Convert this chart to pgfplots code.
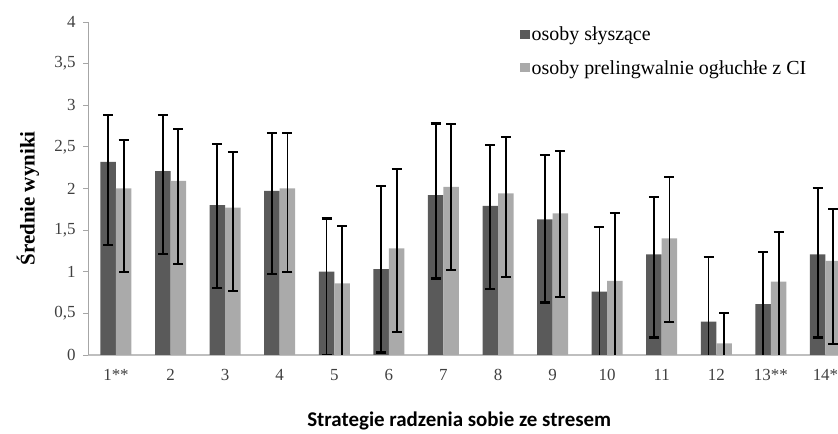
\documentclass[border=0pt]{standalone}
\usepackage{fontspec}
\setmainfont{Liberation Serif}
\newfontfamily\calib{Carlito}
\usepackage{pgfplots}
\pgfplotsset{compat=1.18}
\definecolor{darkbar}{HTML}{5A5A5A}
\definecolor{lightbar}{HTML}{AAAAAA}
\definecolor{ticktext}{HTML}{404040}
\begin{document}
\begin{tikzpicture}[x=1bp,y=1bp]
\useasboundingbox (0,0) rectangle (838,434);
\begin{axis}[
  at={(88bp,79bp)}, anchor=south west,
  scale only axis, width=750bp, height=333bp,
  xmin=0.487, xmax=14.23, ymin=0, ymax=4,
  axis x line=bottom, axis y line=left,
  x axis line style={-, draw=black!25, line width=1.5bp},
  y axis line style={-, draw=black!35, line width=0.8bp},
  xtick={1,...,14},
  xticklabels={1**,2,3,4,5,6,7,8,9,10,11,12,13**,14*},
  major x tick style={draw=none},
  ytick={0,0.5,...,4},
  major y tick style={draw=black!35, line width=0.8bp},
  tick align=outside, major tick length=5bp,
  /pgf/number format/assume math mode=true,
  /pgf/number format/use comma,
  yticklabel style={font=\fontsize{17}{20}\selectfont, text=ticktext, xshift=-4bp},
  xticklabel style={font=\fontsize{17}{20}\selectfont, text=ticktext, yshift=-6bp},
  ybar=0pt, bar width=15.5bp,
  clip marker paths=true,
  ylabel={\textbf{Średnie wyniki}},
  ylabel style={font=\fontsize{21}{24}\selectfont, at={(axis description cs:-0.08,0.47)}, anchor=center, rotate=0},
  xlabel={\calib\bfseries Strategie radzenia sobie ze stresem},
  xlabel style={font=\fontsize{21}{24}\selectfont, at={(axis description cs:0.495,-0.216)}, anchor=base},
  legend style={at={(axis description cs:0.576,0.99)}, anchor=north west, draw=none, fill=none,
    font=\fontsize{20}{24}\selectfont, row sep=15bp, inner sep=0pt, nodes={inner sep=1.5bp}},
  legend cell align=left,
  legend image code/.code={\fill[#1,draw=none] (0bp,-4bp) rectangle (10bp,5bp);},
  error bars/y dir=both, error bars/y explicit,
  error bars/error bar style={black, line width=1.8bp},
  error bars/error mark options={rotate=90, black, mark size=5bp, line width=2.2bp},
]
\addplot[fill=darkbar, draw=none] coordinates {
 (1,2.32) += (0,0.56) -= (0,1.0)
 (2,2.21) += (0,0.67) -= (0,1.0)
 (3,1.80) += (0,0.73) -= (0,1.0)
 (4,1.97) += (0,0.70) -= (0,1.0)
 (5,1.00) += (0,0.64) -= (0,1.0)
 (6,1.03) += (0,1.00) -= (0,1.0)
 (7,1.92) += (0,0.86) -= (0,1.0)
 (8,1.79) += (0,0.73) -= (0,1.0)
 (9,1.63) += (0,0.77) -= (0,1.0)
 (10,0.76) += (0,0.78) -= (0,1.0)
 (11,1.21) += (0,0.69) -= (0,1.0)
 (12,0.40) += (0,0.78) -= (0,1.0)
 (13,0.61) += (0,0.63) -= (0,1.0)
 (14,1.21) += (0,0.80) -= (0,1.0)
};
\addlegendentry{osoby słyszące}
\addplot[fill=lightbar, draw=none] coordinates {
 (1,2.00) += (0,0.58) -= (0,1.0)
 (2,2.09) += (0,0.62) -= (0,1.0)
 (3,1.77) += (0,0.67) -= (0,1.0)
 (4,2.00) += (0,0.67) -= (0,1.0)
 (5,0.86) += (0,0.69) -= (0,1.0)
 (6,1.28) += (0,0.95) -= (0,1.0)
 (7,2.02) += (0,0.75) -= (0,1.0)
 (8,1.94) += (0,0.68) -= (0,1.0)
 (9,1.70) += (0,0.75) -= (0,1.0)
 (10,0.89) += (0,0.82) -= (0,1.0)
 (11,1.40) += (0,0.74) -= (0,1.0)
 (12,0.14) += (0,0.36) -= (0,1.0)
 (13,0.88) += (0,0.60) -= (0,1.0)
 (14,1.13) += (0,0.62) -= (0,1.0)
};
\addlegendentry{osoby prelingwalnie ogłuchłe z CI}
\end{axis}
\end{tikzpicture}
\end{document}
